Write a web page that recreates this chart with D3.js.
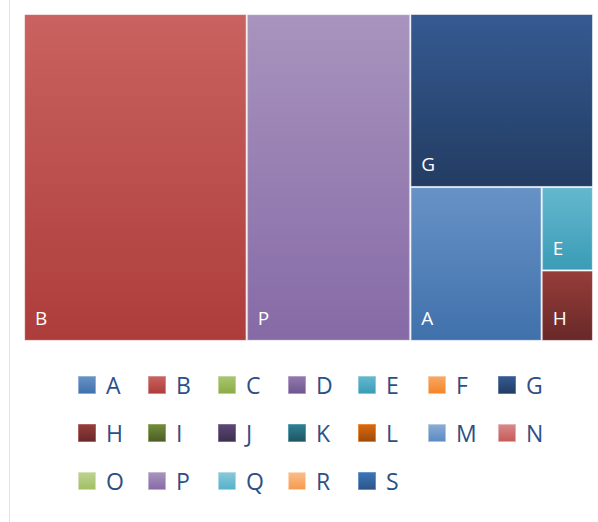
<!DOCTYPE html>
<html>
<head>
<meta charset="utf-8">
<script src="https://cdn.jsdelivr.net/npm/d3@7"></script>
<style>
  body { margin: 0; background: #fff; }
  text { font-family: "Open Sans", "Noto Sans", sans-serif; }
</style>
</head>
<body>
<svg id="chart" width="598" height="522"></svg>
<script>
// treemap values (only these have area in the chart)
const names = ['B', 'P', 'G', 'A', 'E', 'H'];
const values = [39.15, 28.75, 16.99, 10.88, 2.30, 1.94];

// legend categories and palette
const legendNames = ['A', 'B', 'C', 'D', 'E', 'F', 'G', 'H', 'I', 'J',
                     'K', 'L', 'M', 'N', 'O', 'P', 'Q', 'R', 'S'];
const palette = ['#4f81bd', '#c14a47', '#9bbb59', '#8064a2', '#4bacc6', '#f79646', '#2c4b7a',
                 '#7f3331', '#5f7530', '#4d3b62', '#276a7c', '#bc5a0c', '#739bcc', '#cf7270',
                 '#afc97a', '#977fb2', '#6fbdd1', '#f9ab6b', '#3465a0'];

const width = 598;
const height = 522;
const area = { x: 24, y: 14, w: 569, h: 327 };

const svg = d3.select('#chart');
const defs = svg.append('defs');

const color = d3.scaleOrdinal().domain(legendNames).range(palette);

// one vertical gradient per category, lighter on top
legendNames.forEach(n => {
  const base = d3.hsl(color(n));
  const top = d3.hsl(base.h, base.s, Math.min(1, base.l + 0.065));
  const bottom = d3.hsl(base.h, base.s, Math.max(0, base.l - 0.065));
  const g = defs.append('linearGradient')
                .attr('id', 'grad-' + n)
                .attr('x1', 0).attr('y1', 0)
                .attr('x2', 0).attr('y2', 1);
  g.append('stop').attr('offset', '0%').attr('stop-color', top.formatHex());
  g.append('stop').attr('offset', '100%').attr('stop-color', bottom.formatHex());
});

// faint left border line
svg.append('line')
   .attr('x1', 9.5).attr('x2', 9.5)
   .attr('y1', 0).attr('y2', height)
   .attr('stroke', '#dde4f0')
   .attr('stroke-width', 1);

drawTreemap();
drawLegend();

function drawTreemap() {
  const root = d3.hierarchy({ children: names.map((n, i) => ({ name: n, value: values[i] })) })
                 .sum(d => d.value || 0)
                 .sort((a, b) => b.value - a.value);

  d3.treemap()
    .tile(d3.treemapSquarify.ratio(1))
    .size([area.w, area.h])
    .paddingInner(2)
    .paddingOuter(1)(root);

  const group = svg.append('g')
                   .attr('id', 'treemap')
                   .attr('transform', translate(area.x, area.y));

  const cell = group.selectAll('g')
                    .data(root.leaves())
                    .enter()
                    .append('g');

  cell.append('rect')
      .attr('x', d => d.x0)
      .attr('y', d => d.y0)
      .attr('width', d => d.x1 - d.x0)
      .attr('height', d => d.y1 - d.y0)
      .attr('fill', d => 'url(#grad-' + d.data.name + ')')
      .attr('stroke', d => d3.hsl(color(d.data.name)).brighter(0.6).formatHex())
      .attr('stroke-opacity', 0.5)
      .attr('stroke-width', 1);

  cell.append('text')
      .attr('x', d => d.x0 + 10)
      .attr('y', d => d.y1 - 15)
      .attr('fill', '#fff')
      .attr('font-size', 19)
      .text(d => d.data.name);
}

function drawLegend() {
  const perRow = 7;
  const pitchX = 70;
  const pitchY = 48;
  const box = 17;

  const group = svg.append('g')
                   .attr('id', 'legend')
                   .attr('transform', translate(78, 376));

  const item = group.selectAll('g')
                    .data(legendNames)
                    .enter()
                    .append('g')
                    .attr('transform', (d, i) => translate((i % perRow) * pitchX, Math.floor(i / perRow) * pitchY));

  item.append('rect')
      .attr('x', 0.5).attr('y', 0.5)
      .attr('width', box).attr('height', box)
      .attr('fill', d => 'url(#grad-' + d + ')')
      .attr('stroke', d => d3.hsl(color(d)).brighter(0.6).formatHex())
      .attr('stroke-opacity', 0.6);

  item.append('text')
      .attr('x', 28)
      .attr('y', 18)
      .attr('fill', '#2b5086')
      .attr('font-size', 23)
      .text(d => d);
}

function translate(x, y) {
  return 'translate(' + String(x) + ',' + String(y) + ')';
}
</script>
</body>
</html>
